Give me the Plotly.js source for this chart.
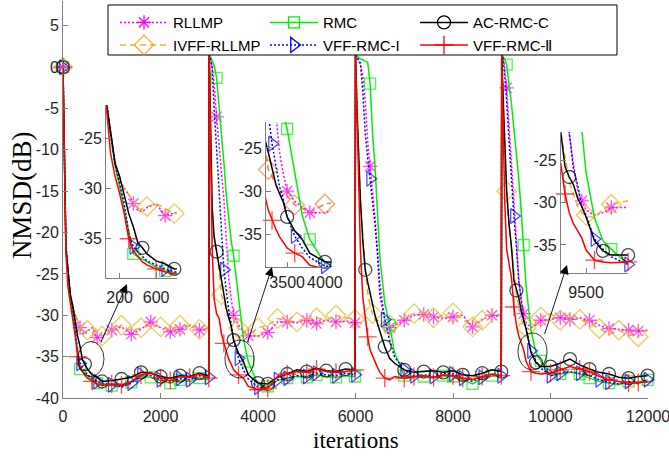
<!DOCTYPE html>
<html><head><meta charset="utf-8">
<script src="https://cdn.plot.ly/plotly-3.0.1.min.js"></script>
<style>html,body{margin:0;padding:0;background:#fff}#chart{width:669px;height:460px}</style>
</head><body><div id="chart"></div><script>
// ---------------- data ----------------
const segStarts = [0, 3000, 6000, 9000];
const segOffsets = [0,30,60,100,150,200,250,300,350,400,450,500,600,700,800,1000,1200,1400,1600,1800,2000,2200,2400,2600,2800,2990];
const iterations = segStarts.flatMap(s => segOffsets.map(o => s + o));
const xTickVals = [0,2000,4000,6000,8000,10000,12000];
const yTickVals = [-40,-35,-30,-25,-20,-15,-10,-5,0,5];

const rllmp = [
 0,-12,-22,-24.5,-27.6,-29.2,-30,-30.6,-31.5,-32.2,-32.3,-31.9,-31.5,-32.7,-32.4,-31.8,-31.4,-32.3,-31.7,-30.8,-31.5,-32,-31.7,-31.2,-31.8,-31.6,
 1.5,1,0,-2,-6,-9.5,-12,-16,-21,-25.5,-28,-30,-31.2,-31.8,-32.5,-32.5,-32.1,-30.8,-30.8,-30.9,-30.6,-31,-30.6,-30.8,-30.7,-30.9,
 1.5,1.2,0.8,0.3,-1,-4,-9,-12,-15,-18,-22,-26,-30.5,-31.5,-31.2,-30.6,-30,-29.9,-30.2,-30.4,-30.2,-30,-31.4,-30.5,-30,-30.2,
 1.5,1,0,-2.5,-7,-12,-17,-22,-25.5,-28.5,-29.8,-30.9,-31.5,-31.2,-30.6,-30.5,-30.3,-30.5,-30.3,-30.6,-31.2,-31.6,-31.7,-31.8,-31.9,-31.8
];
const ivffRllmp = [
 0,-12,-22,-24.5,-27.5,-29.2,-29.9,-30.5,-31.3,-32.2,-32,-31.8,-31.5,-32,-32.5,-31.8,-31.2,-31.9,-31.5,-31.2,-31.4,-31.8,-31.2,-31.3,-31.7,-31.5,
 1.5,-10,-17,-20.5,-22.5,-24.5,-27.5,-28.3,-29.3,-30.3,-30,-30.5,-31.6,-32,-32.5,-31.5,-31.2,-30.4,-30.6,-30.8,-30.5,-30.3,-30.6,-30,-30.3,-30.5,
 1.5,-5,-10,-16,-21,-24.5,-27.3,-28.8,-29.8,-30.6,-30.6,-30.8,-31,-31.2,-31,-30.3,-29.8,-29.6,-30.3,-30,-29.7,-30.5,-31.4,-30.6,-29.7,-30,
 1.5,-4,-10,-15,-19,-22,-25,-27.5,-29,-30.5,-31.2,-31.5,-31.8,-30.8,-30.2,-29.8,-30.6,-29.8,-30.5,-31,-31.6,-32.3,-31.8,-32.4,-32.6,-31.8
];
const rmc = [
 0,-12.5,-21.8,-24.6,-27.8,-29.8,-32,-34.5,-36.5,-36.8,-37,-37.3,-37.8,-38.2,-38.4,-38.5,-38.6,-38.1,-37.4,-37.5,-37.9,-38.2,-37.8,-38,-37.6,-37.8,
 1.5,1.2,0.8,0.2,-1.3,-4.5,-8,-11.5,-15.5,-18.5,-21,-22.8,-27.8,-32.8,-35.6,-38.4,-38.6,-37.9,-37.6,-37.4,-37.5,-37.2,-37.4,-37.5,-37.3,-37.4,
 1.5,1.4,1.2,1,0.9,0.7,0.6,-2,-8,-12,-18,-23,-28.5,-31.2,-34.5,-37.3,-37.5,-37.4,-37.6,-37.3,-37.4,-37.8,-38.3,-37.6,-37.3,-37.4,
 1.5,1.3,1,0.3,-2,-4.5,-7.5,-10.5,-13.5,-17.5,-21.5,-26.5,-31.8,-34.5,-35.5,-37.3,-37.1,-36.9,-37.1,-37.6,-38,-38.2,-38.4,-38,-38.3,-37.8
];
const vffRmc1 = [
 0,-12,-21.5,-24.5,-27.6,-29.5,-31.5,-34.5,-35.8,-36.3,-36.8,-37.2,-37.6,-38,-38.3,-38.4,-38.7,-38.2,-37.2,-37.3,-37.8,-38.1,-37.6,-37.8,-37.3,-37.5,
 1.5,0.8,0,-5,-10,-16,-21,-24.5,-27,-29.5,-31,-33,-35.2,-36.6,-37.7,-38.7,-38.8,-37.8,-37.6,-37.3,-37.4,-37,-37.2,-37.3,-37,-37.2,
 1.5,1.2,1,0.5,-3,-8,-11,-13.5,-16,-19,-22.5,-27.5,-30.5,-33,-35,-36.6,-37.3,-37.2,-37.4,-37,-37.1,-37.6,-38,-37.5,-37.1,-37.3,
 1.5,1,-1,-4,-9,-14,-18,-21.7,-26,-28,-30.5,-31.5,-34.3,-35.5,-36.4,-37.3,-37,-36.8,-37,-37.3,-37.8,-38.1,-38.3,-38,-38.2,-37.8
];
const acRmcC = [
 0,-12,-21.9,-24.3,-27.5,-28.8,-30.8,-32.5,-33.8,-35.4,-35.9,-36.5,-37.2,-37.5,-38,-37.9,-37.7,-37.5,-36.9,-37,-37.4,-37.6,-37.3,-37.4,-37,-37.3,
 1.5,-10,-17,-20.5,-22.3,-23.8,-25.5,-27.5,-29.2,-30.3,-31.3,-33,-34.6,-35.6,-37.2,-38.2,-38.3,-37.5,-37.1,-36.6,-36.8,-36.4,-36.7,-36.8,-36.5,-36.6,
 1.5,-5,-10,-16,-21,-24.5,-26,-27.3,-29,-30,-31,-32,-33.8,-35.2,-35.8,-36.6,-36.9,-36.8,-36.7,-36.9,-36.7,-37.2,-37.3,-37,-36.6,-36.8,
 1.5,-4,-10,-15,-19,-21.8,-25.8,-27,-27.9,-29.5,-30.5,-31.7,-34.5,-35.7,-36.2,-36.2,-35.8,-35.3,-36,-36.5,-36.9,-37.1,-37.5,-37.6,-37.4,-37.3
];
const vffRmc2 = [
 0,-14,-22.5,-26.5,-28.8,-30.5,-32.5,-35,-36.2,-36.8,-37.3,-37.6,-38,-38.3,-38.5,-38.3,-38.4,-38,-37.2,-36.9,-37.6,-37.9,-37.4,-37.5,-37.1,-37.6,
 1.5,-12,-22,-28,-29.8,-30.3,-32.2,-33.4,-34.4,-35.3,-35.9,-36.6,-37.2,-37.6,-38.6,-39,-38.8,-37.4,-37.1,-36.8,-36.9,-36.5,-36.8,-36.9,-36.8,-36.6,
 1.5,-5,-14,-22,-27.8,-30.2,-32.6,-34.2,-35,-35.6,-36.3,-36.9,-37.6,-37.8,-37.4,-37.6,-37.4,-37.3,-37.5,-37.2,-37.3,-37.6,-37.8,-37.4,-37.1,-37.3,
 1.5,-8,-16,-22,-24,-25.5,-29,-31.2,-32.5,-33.3,-34.2,-35.6,-36.8,-37,-37.1,-37,-36.6,-36.2,-36.5,-36.8,-37.4,-37.8,-38,-38.2,-38.1,-38
];

// ---------------- style ----------------
const series = [
 {name:'RLLMP',      y:rllmp,     color:'#FF00FF', dash:'2px,2px', symbol:'asterisk-open',       size:12, step:349, phase:20},
 {name:'IVFF-RLLMP', y:ivffRllmp, color:'#EDB120', dash:'6px,4px', symbol:'diamond-open',        size:15, step:390, phase:120},
 {name:'RMC',        y:rmc,       color:'#00EE00', dash:'solid',   symbol:'square-open',         size:11, step:350, phase:10},
 {name:'VFF-RMC-I',  y:vffRmc1,   color:'#0000FF', dash:'2px,2px', symbol:'triangle-right-open', size:13, step:330, phase:20},
 {name:'AC-RMC-C',   y:acRmcC,    color:'#000000', dash:'solid',   symbol:'circle-open',         size:13, step:385, phase:65},
 {name:'VFF-RMC-\u2161', y:vffRmc2, color:'#FF0000', dash:'solid', symbol:'cross-thin-open',     size:13, step:331, phase:-26}
];
const legendOrder = ['RLLMP','RMC','AC-RMC-C','IVFF-RLLMP','VFF-RMC-I','VFF-RMC-\u2161'];

function markerSizes(s) {
  const out = iterations.map(() => 0);
  out[0] = s.size;
  for (let t = s.phase; t <= 12000; t += s.step) {
    if (t < 250) continue;
    let best = -1, bd = Infinity;
    iterations.forEach((x, i) => { const d = Math.abs(x - t); if (d < bd) { bd = d; best = i; } });
    if (best >= 0) out[best] = s.size;
  }
  return out;
}

const subplots = [
  {xa:'x',  ya:'y'},
  {xa:'x2', ya:'y2'},
  {xa:'x3', ya:'y3'},
  {xa:'x4', ya:'y4'}
];
const traces = [];
subplots.forEach((sp, k) => {
  series.forEach(s => {
    let col = s.color;
    if (k === 2 && s.name === 'IVFF-RLLMP') col = '#F07A3A';
    traces.push({
      type:'scatter', mode:'lines+markers', x:iterations, y:s.y,
      xaxis:sp.xa, yaxis:sp.ya, showlegend:false, cliponaxis:false, hoverinfo:'skip',
      line:{color:col, width:1.5, dash:s.dash},
      marker:{symbol:s.symbol, size:markerSizes(s), color:col, line:{color:col, width:1.3}}
    });
  });
});
legendOrder.forEach(n => {
  const s = series.find(q => q.name === n);
  traces.push({
    type:'scatter', mode:'lines+markers', x:[null], y:[null], name:s.name,
    showlegend:true, hoverinfo:'skip',
    line:{color:s.color, width:1.5, dash:s.dash},
    marker:{symbol:s.symbol, size:s.size, color:s.color, line:{color:s.color, width:1.3}}
  });
});

const axLine = '#7f7f7f';
const tickFont = {family:'Arial, "Liberation Sans", sans-serif', size:16, color:'#262626'};
function axis(extra) {
  const a = Object.assign({showgrid:false, zeroline:false, showline:true, linecolor:axLine, linewidth:1,
    ticks:'inside', ticklen:5, tickcolor:axLine, tickfont:tickFont, mirror:false, fixedrange:true,
    ticklabeloverflow:'allow'}, extra);
  if (a.tickvals) a.ticktext = a.tickvals.map(v => String(v));
  return a;
}
const serif = '"Times New Roman", "Liberation Serif", serif';

const layout = {
  width:669, height:460,
  margin:{l:63, r:21, t:1, b:62},
  paper_bgcolor:'#ffffff', plot_bgcolor:'#ffffff',
  font:{family:'Arial, "Liberation Sans", sans-serif', color:'#000'},
  xaxis: axis({range:[0,12000], tickvals:xTickVals, anchor:'y', ticklabelstandoff:4}),
  yaxis: axis({range:[-40,8], tickvals:yTickVals, anchor:'x'}),
  xaxis2: axis({range:[50,830], tickvals:[200,600], domain:[0.0735,0.1949], anchor:'y2', ticklabelstandoff:5}),
  yaxis2: axis({range:[-38.9,-21.7], tickvals:[-35,-30,-25], domain:[0.3023,0.738], anchor:'x2'}),
  xaxis3: axis({range:[3220,4080], tickvals:[3500,4000], domain:[0.347,0.458], anchor:'y3', ticklabelstandoff:1}),
  yaxis3: axis({range:[-38.8,-22], tickvals:[-35,-30,-25], domain:[0.330,0.695], anchor:'x3'}),
  xaxis4: axis({range:[9200,10000], tickvals:[9500], domain:[0.851,0.966], anchor:'y4', ticklabelstandoff:5}),
  yaxis4: axis({range:[-38.3,-21.7], tickvals:[-35,-30,-25], domain:[0.315,0.670], anchor:'x4'}),
  showlegend:true,
  legend:{orientation:'h', x:0.0889, y:0.987, xanchor:'left', yanchor:'top',
    bgcolor:'rgba(0,0,0,0)', borderwidth:0, itemwidth:48, entrywidth:87, entrywidthmode:'pixels',
    font:{family:'Arial, "Liberation Sans", sans-serif', size:15, color:'#000'}, traceorder:'normal'},
  shapes:[
    {type:'rect', xref:'paper', yref:'paper', x0:0.0769, x1:0.947, y0:0.864, y1:0.990,
     fillcolor:'#ffffff', line:{color:'#000', width:1}, layer:'above'},
    {type:'circle', xref:'x', yref:'y', x0:308, x1:841, y0:-37.4, y1:-33.17, line:{color:'#000', width:0.8}, layer:'above'},
    {type:'circle', xref:'x', yref:'y', x0:3323, x1:3918, y0:-37.58, y1:-32.99, line:{color:'#000', width:0.8}, layer:'above'},
    {type:'circle', xref:'x', yref:'y', x0:9333, x1:9928, y0:-36.61, y1:-32.14, line:{color:'#000', width:0.8}, layer:'above'}
  ],
  annotations:[
    {text:'iterations', xref:'paper', yref:'paper', x:0.5, y:-0.1083, showarrow:false,
     xanchor:'center', yanchor:'middle', font:{family:serif, size:23, color:'#000'}},
    {text:'NMSD(dB)', xref:'paper', yref:'paper', x:-0.0701, y:0.511, showarrow:false, textangle:-90,
     xanchor:'center', yanchor:'middle', font:{family:serif, size:27, color:'#000'}},
    {text:' ', xref:'x', yref:'y', x:1313, y:-26.22, axref:'x', ayref:'y', ax:759, ay:-33.47,
     showarrow:true, arrowhead:2, arrowsize:2, arrowwidth:0.9, arrowcolor:'#000', font:{size:1}},
    {text:' ', xref:'x', yref:'y', x:4287, y:-24.16, axref:'x', ayref:'y', ax:3774, ay:-33.47,
     showarrow:true, arrowhead:2, arrowsize:2, arrowwidth:0.9, arrowcolor:'#000', font:{size:1}},
    {text:' ', xref:'x', yref:'y', x:10338, y:-23.92, axref:'x', ayref:'y', ax:9867, ay:-32.5,
     showarrow:true, arrowhead:2, arrowsize:2, arrowwidth:0.9, arrowcolor:'#000', font:{size:1}}
  ]
};

Plotly.newPlot('chart', traces, layout, {staticPlot:true, displayModeBar:false});
</script></body></html>
